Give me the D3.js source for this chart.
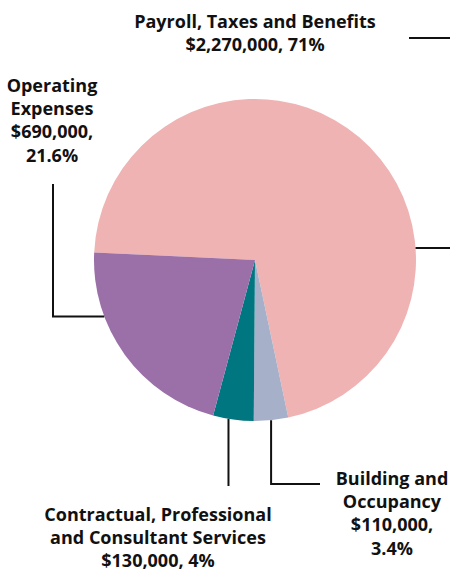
<!doctype html>
<html lang="en">
    <head>
        <meta charset="utf-8">
        <title>Expenses pie</title>
        <script type="text/javascript" src="https://cdn.jsdelivr.net/npm/d3@7/dist/d3.min.js"></script>
        <style>
            body { margin: 0; background: #fff; }
            text { font-family: "Open Sans", sans-serif; font-weight: 700; font-size: 18px; fill: #111; }
        </style>
    </head>
    <body>
        <script type="text/javascript">
            // data
            var categories = ["Payroll, Taxes and Benefits", "Building and Occupancy",
                              "Contractual, Professional and Consultant Services", "Operating Expenses"];
            var values = [2270000, 110000, 130000, 690000];
            var percents = ["71%", "3.4%", "4%", "21.6%"];
            var colors = ["#f0b3b3", "#a6b0c8", "#007681", "#9b6fa8"];

            var svgW = 450;
            var svgH = 572;
            var cx = 255, cy = 260;
            var radius = 161;

            var fmt = d3.format("$,");

            // label blocks: lines, anchor x, first baseline
            var labels = [
                { lines: [categories[0], fmt(values[0]) + ", " + percents[0]], x: 255, y: 28 },
                { lines: ["Building and", "Occupancy", fmt(values[1]) + ",", percents[1]], x: 392, y: 485 },
                { lines: ["Contractual, Professional", "and Consultant Services", fmt(values[2]) + ", " + percents[2]], x: 158, y: 521 },
                { lines: ["Operating", "Expenses", fmt(values[3]) + ",", percents[3]], x: 52, y: 92 }
            ];
            var lineH = 23.2;

            var svg = d3.select("body")
                        .append("svg")
                        .attr("width", svgW)
                        .attr("height", svgH);

            var pie = d3.pie()
                        .sort(null)
                        .startAngle(-87.3 * Math.PI / 180)
                        .endAngle((360 - 87.3) * Math.PI / 180);

            var arc = d3.arc()
                        .innerRadius(0)
                        .outerRadius(radius);

            var arcs = pie(values);

            var g = svg.append("g")
                       .attr("transform", "translate(" + cx + "," + cy + ")");

            g.selectAll("path")
             .data(arcs)
             .enter()
             .append("path")
             .attr("d", arc)
             .attr("fill", (_, i) => colors[i]);

            // point on the rim at a given angle
            var rim = a => [cx + radius * Math.sin(a), cy - radius * Math.cos(a)];
            var mid = d => (d.startAngle + d.endAngle) / 2;

            // leader lines
            var pB = rim(mid(arcs[1]));
            var pC = rim(mid(arcs[2]) + 0.03);
            var pO = rim(arcs[3].startAngle + (arcs[3].endAngle - arcs[3].startAngle) * 0.70);
            var pR = rim(Math.PI / 2 - 0.075);

            var leaders = [
                [[409, 38], [450, 38]],
                [[pR[0], pR[1]], [450, pR[1]]],
                [[pB[0], pB[1]], [pB[0], 484], [320, 484]],
                [[pC[0], pC[1]], [pC[0], 486]],
                [[53, 184], [53, pO[1]], [pO[0], pO[1]]]
            ];

            svg.selectAll("path.leader")
               .data(leaders)
               .enter()
               .append("path")
               .attr("class", "leader")
               .attr("d", d3.line())
               .attr("fill", "none")
               .attr("stroke", "#111")
               .attr("stroke-width", 2);

            var blocks = svg.selectAll("text.label")
                            .data(labels)
                            .enter()
                            .append("text")
                            .attr("class", "label")
                            .attr("text-anchor", "middle");

            blocks.selectAll("tspan")
                  .data(d => d.lines.map((l, i) => ({ t: l, x: d.x, y: d.y + i * lineH })))
                  .enter()
                  .append("tspan")
                  .attr("x", d => d.x)
                  .attr("y", d => d.y)
                  .text(d => d.t);
        </script>
    </body>
</html>
